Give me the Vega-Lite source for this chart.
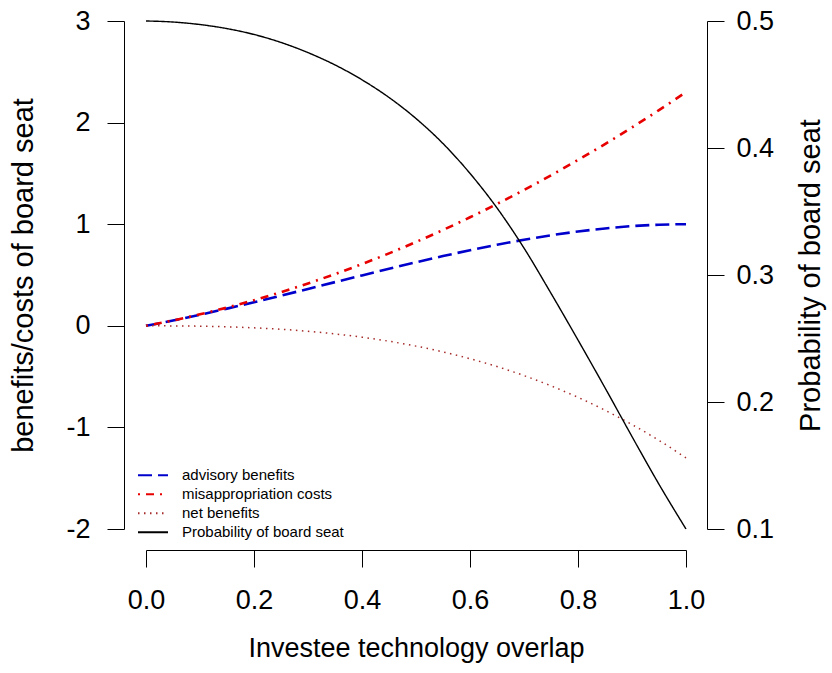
{
  "$schema": "https://vega.github.io/schema/vega-lite/v6.json",
  "autosize": "none",
  "padding": {"left": 146, "top": 21, "right": 146, "bottom": 144},
  "width": 540,
  "height": 508,
  "background": "white",
  "data": {
    "values": [
      {"x": 0, "advisory benefits": 0, "misappropriation costs": 0, "net benefits": 0, "Probability of board seat": 0.5},
      {"x": 0.05, "advisory benefits": 0.052, "misappropriation costs": 0.053, "net benefits": -0.001, "Probability of board seat": 0.4992},
      {"x": 0.1, "advisory benefits": 0.109, "misappropriation costs": 0.113, "net benefits": -0.004, "Probability of board seat": 0.4972},
      {"x": 0.15, "advisory benefits": 0.169, "misappropriation costs": 0.179, "net benefits": -0.01, "Probability of board seat": 0.494},
      {"x": 0.2, "advisory benefits": 0.232, "misappropriation costs": 0.252, "net benefits": -0.02, "Probability of board seat": 0.4894},
      {"x": 0.25, "advisory benefits": 0.297, "misappropriation costs": 0.331, "net benefits": -0.034, "Probability of board seat": 0.4831},
      {"x": 0.3, "advisory benefits": 0.363, "misappropriation costs": 0.417, "net benefits": -0.054, "Probability of board seat": 0.4751},
      {"x": 0.35, "advisory benefits": 0.43, "misappropriation costs": 0.509, "net benefits": -0.08, "Probability of board seat": 0.4654},
      {"x": 0.4, "advisory benefits": 0.496, "misappropriation costs": 0.608, "net benefits": -0.112, "Probability of board seat": 0.4537},
      {"x": 0.45, "advisory benefits": 0.561, "misappropriation costs": 0.713, "net benefits": -0.152, "Probability of board seat": 0.4398},
      {"x": 0.5, "advisory benefits": 0.625, "misappropriation costs": 0.825, "net benefits": -0.2, "Probability of board seat": 0.4232},
      {"x": 0.55, "advisory benefits": 0.686, "misappropriation costs": 0.943, "net benefits": -0.257, "Probability of board seat": 0.4035},
      {"x": 0.6, "advisory benefits": 0.744, "misappropriation costs": 1.068, "net benefits": -0.324, "Probability of board seat": 0.38},
      {"x": 0.65, "advisory benefits": 0.798, "misappropriation costs": 1.199, "net benefits": -0.401, "Probability of board seat": 0.3528},
      {"x": 0.7, "advisory benefits": 0.847, "misappropriation costs": 1.337, "net benefits": -0.49, "Probability of board seat": 0.3212},
      {"x": 0.75, "advisory benefits": 0.891, "misappropriation costs": 1.481, "net benefits": -0.591, "Probability of board seat": 0.2856},
      {"x": 0.8, "advisory benefits": 0.928, "misappropriation costs": 1.632, "net benefits": -0.704, "Probability of board seat": 0.2488},
      {"x": 0.85, "advisory benefits": 0.958, "misappropriation costs": 1.789, "net benefits": -0.831, "Probability of board seat": 0.2112},
      {"x": 0.9, "advisory benefits": 0.981, "misappropriation costs": 1.953, "net benefits": -0.972, "Probability of board seat": 0.1728},
      {"x": 0.95, "advisory benefits": 0.995, "misappropriation costs": 2.123, "net benefits": -1.128, "Probability of board seat": 0.1352},
      {"x": 1, "advisory benefits": 1, "misappropriation costs": 2.3, "net benefits": -1.3, "Probability of board seat": 0.1}
    ]
  },
  "encoding": {
    "x": {
      "field": "x", "type": "quantitative",
      "scale": {"domain": [0, 1], "nice": false, "zero": false},
      "axis": {
        "title": "Investee technology overlap",
        "values": [0, 0.2, 0.4, 0.6, 0.8, 1],
        "format": ".1f",
        "offset": 21,
        "labelPadding": 20,
        "titlePadding": 22
      }
    },
    "color": {
      "field": "series", "type": "nominal",
      "scale": {
        "domain": ["advisory benefits", "misappropriation costs", "net benefits", "Probability of board seat"],
        "range": ["#0000CD", "#E80000", "#A52A2A", "#000000"]
      },
      "legend": {"title": null}
    },
    "strokeDash": {
      "field": "series", "type": "nominal",
      "scale": {
        "domain": ["advisory benefits", "misappropriation costs", "net benefits", "Probability of board seat"],
        "range": [[14, 6], [2, 6, 8, 6], [1.5, 4.5], [1, 0]]
      },
      "legend": {"title": null}
    }
  },
  "layer": [
    {
      "layer": [
        {
          "transform": [{"fold": ["advisory benefits", "misappropriation costs"], "as": ["series", "value"]}],
          "mark": {"type": "line", "strokeWidth": 2.6, "interpolate": "monotone", "strokeCap": "butt"},
          "encoding": {
            "y": {
              "field": "value", "type": "quantitative",
              "scale": {"domain": [-2, 3], "nice": false, "zero": false},
              "axis": {
                "title": "benefits/costs of board seat",
                "values": [-2, -1, 0, 1, 2, 3],
                "labelExpr": "'' + datum.value",
                "offset": 22,
                "labelPadding": 17,
                "titlePadding": 27,
                "titleFontSize": 29
              }
            }
          }
        },
        {
          "transform": [{"fold": ["net benefits"], "as": ["series", "value"]}],
          "mark": {"type": "line", "strokeWidth": 1.5, "interpolate": "monotone", "strokeCap": "butt"},
          "encoding": {
            "y": {"field": "value", "type": "quantitative"}
          }
        }
      ]
    },
    {
      "transform": [{"fold": ["Probability of board seat"], "as": ["series", "value"]}],
      "mark": {"type": "line", "strokeWidth": 1.4, "interpolate": "monotone"},
      "encoding": {
        "y": {
          "field": "value", "type": "quantitative",
          "scale": {"domain": [0.1, 0.5], "nice": false, "zero": false},
          "axis": {
            "orient": "right",
            "title": "Probability of board seat",
            "values": [0.1, 0.2, 0.3, 0.4, 0.5],
            "format": ".1f",
            "offset": 21,
            "labelPadding": 12,
            "titlePadding": 52,
            "titleAngle": 270,
            "titleFontSize": 29
          }
        }
      }
    }
  ],
  "resolve": {"scale": {"y": "independent"}, "axis": {"y": "independent"}},
  "config": {
    "view": {"stroke": null},
    "font": "Liberation Sans",
    "axis": {
      "grid": false,
      "domainColor": "#000000",
      "domainWidth": 1,
      "tickColor": "#000000",
      "tickWidth": 1,
      "tickSize": 17,
      "labelColor": "#000000",
      "labelFont": "Liberation Sans",
      "labelFontSize": 27,
      "labelFlush": false,
      "labelOverlap": false,
      "labelBound": false,
      "titleColor": "#000000",
      "titleFont": "Liberation Sans",
      "titleFontSize": 27,
      "titleFontWeight": "normal"
    },
    "legend": {
      "orient": "none",
      "legendX": -9,
      "legendY": 445,
      "padding": 0,
      "symbolType": "stroke",
      "symbolSize": 900,
      "symbolStrokeWidth": 2,
      "clipHeight": 18.5,
      "rowPadding": 0,
      "labelOffset": 13,
      "labelFont": "Liberation Sans",
      "labelFontSize": 15,
      "labelColor": "#000000",
      "labelLimit": 400
    }
  }
}
